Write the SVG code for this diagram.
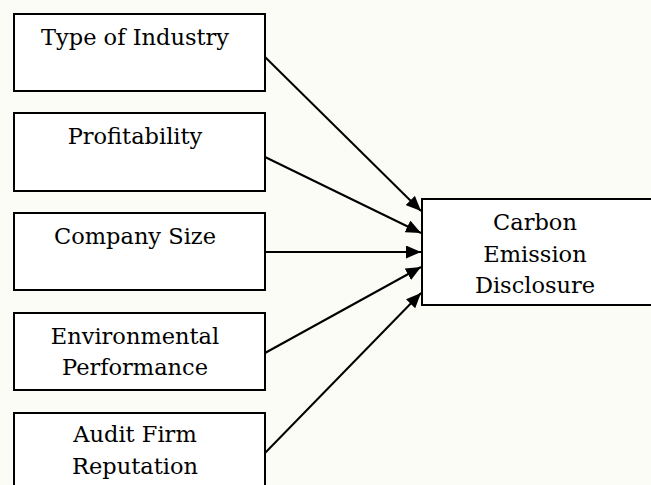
<svg xmlns="http://www.w3.org/2000/svg" width="651" height="485" viewBox="0 0 651 485">
<style>
  .box { fill: #ffffff; stroke: #000000; stroke-width: 2; }
  .lbl { font-family: "DejaVu Serif", "Liberation Serif", serif; font-size: 22.5px; fill: #000000; text-anchor: middle; }
  .edge { stroke: #000000; stroke-width: 2; fill: none; marker-end: url(#arrow); }
</style>
<defs>
  <marker id="arrow" viewBox="0 0 15 13" refX="15" refY="6.5" markerWidth="15" markerHeight="13" markerUnits="userSpaceOnUse" orient="auto">
    <path d="M0,0 L15,6.5 L0,13 Z" fill="#000000"/>
  </marker>
</defs>
<rect x="0" y="0" width="651" height="485" fill="#fcfcf7"/>
<g id="node-type-of-industry">
  <rect class="box" x="14" y="14" width="251" height="77"/>
  <text class="lbl" x="135" y="45">Type of Industry</text>
</g>
<g id="node-profitability">
  <rect class="box" x="14" y="113" width="251" height="78"/>
  <text class="lbl" x="135" y="144">Profitability</text>
</g>
<g id="node-company-size">
  <rect class="box" x="14" y="213" width="251" height="77"/>
  <text class="lbl" x="135" y="244">Company Size</text>
</g>
<g id="node-environmental-performance">
  <rect class="box" x="14" y="313" width="251" height="77"/>
  <text class="lbl" x="135" y="344">Environmental</text>
  <text class="lbl" x="135" y="375">Performance</text>
</g>
<g id="node-audit-firm-reputation">
  <rect class="box" x="14" y="413" width="251" height="80"/>
  <text class="lbl" x="135" y="442">Audit Firm</text>
  <text class="lbl" x="135" y="474">Reputation</text>
</g>
<g id="node-carbon-emission-disclosure">
  <rect class="box" x="422" y="199" width="240" height="106"/>
  <text class="lbl" x="535" y="230">Carbon</text>
  <text class="lbl" x="535" y="262">Emission</text>
  <text class="lbl" x="535" y="293">Disclosure</text>
</g>
<g id="connectors">
  <line class="edge" x1="265" y1="57" x2="421" y2="211"/>
  <line class="edge" x1="265" y1="157" x2="421" y2="233"/>
  <line class="edge" x1="265" y1="252" x2="421" y2="252"/>
  <line class="edge" x1="265" y1="353" x2="421" y2="267"/>
  <line class="edge" x1="265" y1="453" x2="421" y2="293"/>
</g>
</svg>
